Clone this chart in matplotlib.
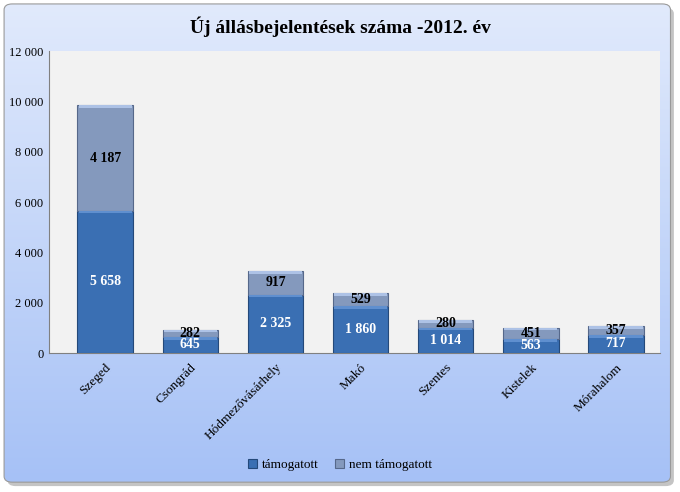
import numpy as np
import matplotlib.pyplot as plt
from matplotlib.patches import FancyBboxPatch

# ==========================================================
# DATA
# ==========================================================

varosok = ["Szeged", "Csongrád", "Hódmezővásárhely", "Makó",
           "Szentes", "Kistelek", "Mórahalom"]
tamogatott = [5658, 645, 2325, 1860, 1014, 563, 717]
nem_tamogatott = [4187, 282, 917, 529, 280, 451, 357]
y_ticks = [0, 2000, 4000, 6000, 8000, 10000, 12000]

SERIF = ["Liberation Serif", "DejaVu Serif"]


def fmt(v):
    return f"{v:,}".replace(",", " ")


# ==========================================================
# FIGURE + BACKGROUND
# ==========================================================

fig = plt.figure(figsize=(6.8, 4.92), dpi=100)
fig.patch.set_facecolor("white")

bg = fig.add_axes([0, 0, 1, 1], zorder=-5)
bg.axis("off")

grad = np.linspace(0, 1, 256).reshape(-1, 1)
top_c = np.array([0xe1, 0xea, 0xfc]) / 255
bot_c = np.array([0xa6, 0xc1, 0xf6]) / 255
img = top_c * (1 - grad[..., None]) + bot_c * grad[..., None]
img = img.reshape(256, 1, 3)

shadow = FancyBboxPatch((0.011, 0.012), 0.98, 0.972,
                        boxstyle="round,pad=0,rounding_size=0.012",
                        facecolor="#c4c4c4", edgecolor="none",
                        transform=bg.transAxes, zorder=1)
bg.add_patch(shadow)
frame = FancyBboxPatch((0.006, 0.02), 0.98, 0.972,
                       boxstyle="round,pad=0,rounding_size=0.012",
                       facecolor="none", edgecolor="#9a9a9a", linewidth=0.8,
                       transform=bg.transAxes, zorder=3)
im = bg.imshow(img, extent=[0.006, 0.986, 0.02, 0.992], aspect="auto",
               origin="upper", zorder=2)
bg.add_patch(frame)
im.set_clip_path(frame)
bg.set_xlim(0, 1)
bg.set_ylim(0, 1)

# ==========================================================
# PLOT
# ==========================================================

ax = fig.add_axes([0.072, 0.2825, 0.899, 0.6135])
ax.set_facecolor("#f2f2f2")

x = np.arange(len(varosok))
width = 0.65

b1 = ax.bar(x, tamogatott, width, color="#3a6fb3",
            edgecolor="#24497a", linewidth=0.8, label="támogatott", zorder=3)
b2 = ax.bar(x, nem_tamogatott, width, bottom=tamogatott, color="#8499bd",
            edgecolor="#56688a", linewidth=0.8, label="nem támogatott", zorder=3)

# bevel highlight on top of each segment
hl = 110
ax.bar(x, hl, width * 0.96, bottom=np.array(tamogatott) - hl,
       color="#5f8fcf", linewidth=0, zorder=4)
ax.bar(x, hl, width * 0.96,
       bottom=np.array(tamogatott) + np.array(nem_tamogatott) - hl,
       color="#adc2e6", linewidth=0, zorder=4)

for i in range(len(varosok)):
    ax.text(x[i], tamogatott[i] / 2, fmt(tamogatott[i]), ha="center",
            va="center", color="white", fontsize=10, fontweight="bold",
            family=SERIF, zorder=5)
    ax.text(x[i], tamogatott[i] + nem_tamogatott[i] / 2,
            fmt(nem_tamogatott[i]), ha="center", va="center", color="black",
            fontsize=10, fontweight="bold", family=SERIF, zorder=5)

ax.set_xlim(-0.66, 6.52)
ax.set_ylim(0, 12000)
ax.set_yticks(y_ticks)
ax.set_yticklabels([fmt(t) for t in y_ticks], family=SERIF, fontsize=9)
ax.set_xticks(x)
ax.set_xticklabels(varosok, rotation=45, ha="right", rotation_mode="anchor",
                   family=SERIF, fontsize=9.5)
ax.tick_params(axis="x", length=0, pad=6)
ax.tick_params(axis="y", length=0, pad=4)

for s in ["top", "right"]:
    ax.spines[s].set_visible(False)
ax.spines["left"].set_color("#808080")
ax.spines["bottom"].set_color("#808080")

fig.text(0.5, 0.945, "Új állásbejelentések száma -2012. év", ha="center",
         va="center", family=SERIF, fontsize=14, fontweight="bold")

fig.legend(handles=[b1, b2], loc="center", bbox_to_anchor=(0.5, 0.055),
           ncol=2, frameon=False, prop={"family": SERIF, "size": 9.5},
           handlelength=0.7, handleheight=0.7, columnspacing=1.2,
           handletextpad=0.4)

fig.savefig("out.png", dpi=100)
